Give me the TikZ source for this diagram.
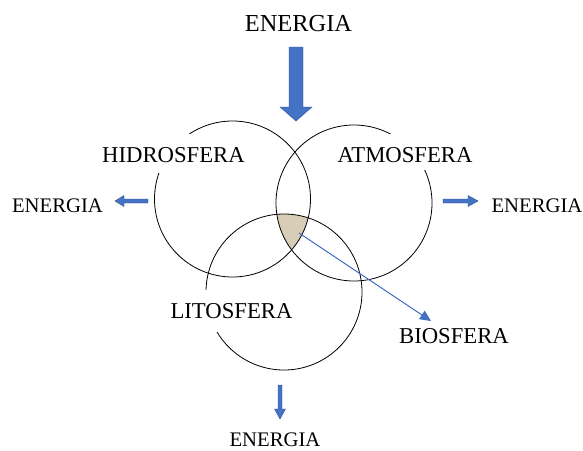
\documentclass[tikz,border=0pt]{standalone}
\usepackage{fontspec}
\setmainfont{Liberation Serif}
\usetikzlibrary{arrows.meta}
\definecolor{ablue}{HTML}{4472C4}
\definecolor{ablueedge}{HTML}{2F528F}
\definecolor{bioshade}{RGB}{216,205,182}
\begin{document}
\begin{tikzpicture}[x=1pt,y=-1pt,
  ring/.style={draw=black,line width=0.8pt},
  lbl/.style={font=\fontsize{22.7}{26}\selectfont,inner sep=0pt,anchor=base},
  elbl/.style={font=\fontsize{20.7}{24}\selectfont,inner sep=0pt,anchor=base},
  cover/.style={fill=white,inner sep=0pt},
  blockarrow/.style={fill=ablue,draw=ablueedge,line width=0.4pt}]
\useasboundingbox (0,0) rectangle (583,450);
% circles
\coordinate (ch) at (232.5,199);
\coordinate (ca) at (354,203);
\coordinate (cl) at (284,292);
\begin{scope}
  \clip (ch) circle (78);
  \clip (ca) circle (78);
  \fill[bioshade] (cl) circle (78);
\end{scope}
\draw[ring] (ch) circle (78);
\draw[ring] (ca) circle (78);
\draw[ring] (cl) circle (78);
% white covers under labels (gaps in circles)
\node[cover,minimum width=160,minimum height=39.5] (hcov) at (172,153.3) {};
\node[cover,minimum width=160,minimum height=36] (acov) at (405,152) {};
\node[cover,minimum width=140,minimum height=42] (lcov) at (232,311) {};
% labels
\node[lbl] (hidro) at (173.5,162) {HIDROSFERA};
\node[lbl] (atmo) at (405,162) {ATMOSFERA};
\node[lbl] (lito) at (231.5,318) {LITOSFERA};
\node[lbl] (bio) at (454,343) {BIOSFERA};
\node[font=\fontsize{24.4}{28}\selectfont,inner sep=0pt,anchor=base] (etop) at (298.5,31) {ENERGIA};
\node[elbl] (eleft) at (57.5,212) {ENERGIA};
\node[elbl] (eright) at (537,212) {ENERGIA};
\node[elbl] (ebot) at (275,446.5) {ENERGIA};
% big top arrow
\path[blockarrow] (289,47) -- (303,47) -- (303,107) -- (312,107) -- (296,121) -- (280,107) -- (289,107) -- cycle;
% left arrow
\path[blockarrow] (148,199) -- (124,199) -- (124,195.5) -- (115,201) -- (124,206.5) -- (124,203) -- (148,203) -- cycle;
% right arrow
\path[blockarrow] (443,199) -- (468,199) -- (468,195.5) -- (478,201) -- (468,206.5) -- (468,203) -- (443,203) -- cycle;
% bottom arrow
\path[blockarrow] (278,385) -- (282,385) -- (282,409) -- (285.5,409) -- (280,419) -- (274.5,409) -- (278,409) -- cycle;
% biosfera connector
\coordinate (bstart) at (299,233);
\coordinate (bend) at (431,321);
\draw[ablue,line width=1.1pt,-{Triangle[length=11pt,width=10pt]}] (bstart) -- (bend);
\end{tikzpicture}
\end{document}
